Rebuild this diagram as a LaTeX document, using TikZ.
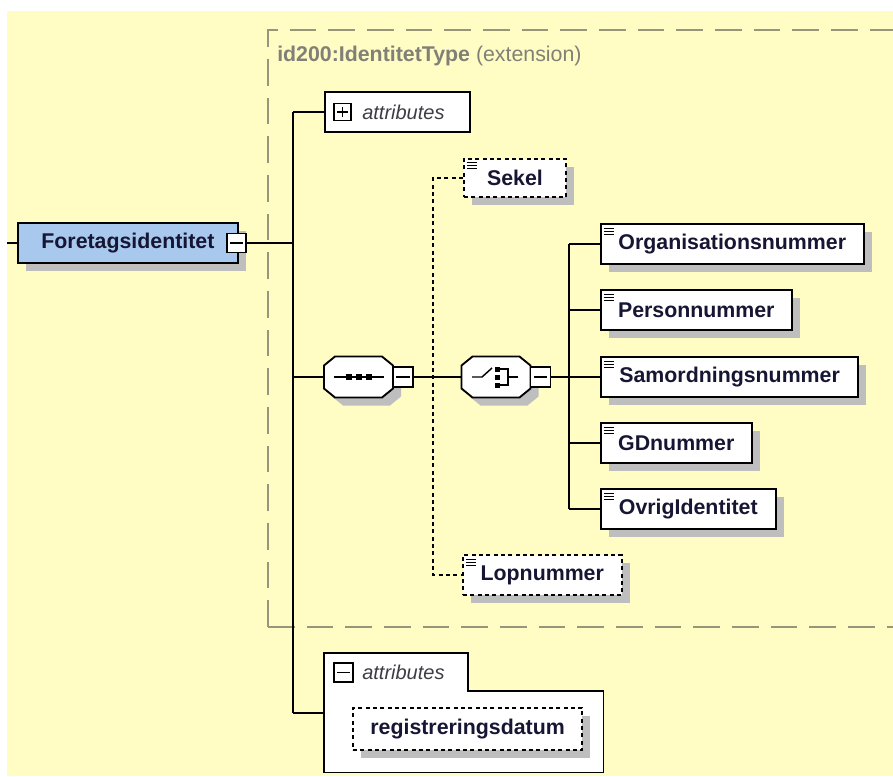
\documentclass[tikz,border=0pt]{standalone}
\usepackage{fontspec}
\setmainfont{Liberation Sans}
\usetikzlibrary{positioning,calc,shadows}
\definecolor{bgyellow}{RGB}{255,252,196}
\definecolor{shadowgray}{RGB}{190,190,190}
\definecolor{foreblue}{RGB}{168,200,238}
\definecolor{labelnavy}{RGB}{22,22,52}
\definecolor{extgray}{RGB}{150,150,122}
\definecolor{titlegray}{RGB}{128,128,118}
\definecolor{attrgray}{RGB}{60,60,70}

\begin{document}
\begin{tikzpicture}[x=0.75pt,y=-0.75pt,
	conn/.style={line width=1.5pt},
	dconn/.style={conn, dash pattern=on 3pt off 2.5pt},
	box/.style={draw, line width=1.4pt, fill=white, anchor=west, inner sep=0pt, minimum height=30pt, text=labelnavy, font=\fontsize{16}{19}\selectfont\bfseries, drop shadow={shadow xshift=6pt, shadow yshift=-6pt, fill=shadowgray, opacity=1}},
	elem/.style={box, path picture={\foreach \k in {3,5.25,7.5}{\draw[solid, line width=0.75pt] ([xshift=2.25pt,yshift=-\k pt]path picture bounding box.north west) -- ++(7.5pt,0pt);}}},
	optelem/.style={elem, dash pattern=on 3pt off 2.5pt},
	attrbox/.style={draw, line width=1.4pt, fill=white, anchor=west, inner sep=0pt, minimum height=30pt},
	lbl/.style={anchor=west, inner sep=0pt, text=attrgray, font=\fontsize{15}{18}\selectfont\itshape},
	btn/.style={draw, fill=white, line width=1.1pt, inner sep=0pt, minimum size=14.5pt, path picture={\draw[line width=1pt] ([xshift=2.5pt]path picture bounding box.west) -- ([xshift=-2.5pt]path picture bounding box.east);}},
	plusbtn/.style={draw, fill=white, line width=1.1pt, inner sep=0pt, minimum size=13pt, path picture={\draw[line width=1pt] ([xshift=2.5pt]path picture bounding box.west) -- ([xshift=-2.5pt]path picture bounding box.east); \draw[line width=1pt] ([yshift=2.5pt]path picture bounding box.south) -- ([yshift=-2.5pt]path picture bounding box.north);}},
	comp/.style={inner sep=0pt, minimum width=52pt, minimum height=31pt}]

	\useasboundingbox (0,0) rectangle (893,776);
	\fill[white] (0,0) rectangle (893,776);
	\fill[bgyellow] (7,11) rectangle (893,776);

	% extension frame
	\draw[extgray, line width=1.2pt, dash pattern=on 20pt off 9pt] (268,627) -- (268,30) -- (895,30);
	\draw[extgray, line width=1.2pt, dash pattern=on 20pt off 9pt] (268,627) -- (895,627);
	\node[anchor=west, inner sep=0pt, text=titlegray, font=\fontsize{16}{19}\selectfont] (ttl) at (277,56) {\textbf{id200:IdentitetType} (extension)};

	% root element
	\node[box, fill=foreblue, minimum width=165pt] (fore) at (17,243) {Foretagsidentitet};
	\node[btn] (forebtn) at (236.5,243) {};

	% attributes (collapsed)
	\node[attrbox, minimum width=109pt] (attrA) at (324,112) {};
	\node[plusbtn] (attrAbtn) at (342.5,112) {};
	\node[lbl] (attrAlbl) at (362,112) {attributes};

	% sequence and choice
	\node[comp] (seq) at (358.5,377) {};
	\node[comp] (cho) at (496,377) {};
	\foreach \n in {seq,cho}{
		\begin{scope}[shift={(\n.center)}]
			\fill[shadowgray, shift={(8,8)}] (-34.5,-11.5) -- (-23.5,-20.5) -- (23.5,-20.5) -- (34.5,-11.5) -- (34.5,11.5) -- (23.5,20.5) -- (-23.5,20.5) -- (-34.5,11.5) -- cycle;
			\draw[line width=1.4pt, fill=white] (-34.5,-11.5) -- (-23.5,-20.5) -- (23.5,-20.5) -- (34.5,-11.5) -- (34.5,11.5) -- (23.5,20.5) -- (-23.5,20.5) -- (-34.5,11.5) -- cycle;
		\end{scope}
	}
	\begin{scope}[shift={(seq.center)}]
		\draw[line width=1.1pt] (-25,0) -- (25,0);
		\foreach \dx in {-10,0,10}
			\fill (\dx-3,-3) rectangle (\dx+3,3);
	\end{scope}
	\begin{scope}[shift={(cho.center)}]
		\draw[line width=1.1pt] (-24,0) -- (-14,0) -- (-4,-9);
		\foreach \dy in {-8,0,8}
			\fill (-1.5,\dy-2.5) rectangle (3.5,\dy+2.5);
		\draw[line width=1.1pt] (3,-8) -- (12,-8) -- (12,8) -- (3,8);
		\draw[line width=1.1pt] (12,0) -- (22,0);
	\end{scope}
	\node[btn, minimum size=15pt] (seqbtn) at (403,377) {};
	\node[btn, minimum size=15pt] (chobtn) at (540.5,377) {};

	% optional elements
	\node[optelem, minimum width=76.5pt, minimum height=29pt] (sekel) at (463,178) {Sekel};
	\node[optelem, minimum width=119pt] (lop) at (462,575) {Lopnummer};

	% choice members
	\node[elem, minimum width=197pt] (org) at (600,244) {Organisationsnummer};
	\node[elem, minimum width=143pt] (pers) at (600,310) {Personnummer};
	\node[elem, minimum width=193pt] (samo) at (600,377) {Samordningsnummer};
	\node[elem, minimum width=113pt] (gd) at (600,443) {GDnummer};
	\node[elem, minimum width=131pt] (ovrig) at (600,509) {OvrigIdentitet};

	% attributes (expanded)
	\node[inner sep=0pt, minimum width=209.25pt, minimum height=89.25pt, anchor=north west] (attrB) at (324,653) {};
	\draw[line width=1.4pt, fill=white] (attrB.north west) -- ($(attrB.north west)+(144,0)$) -- ($(attrB.north west)+(144,38)$) -- ($(attrB.north east)+(0,38)$) -- (attrB.south east) -- (attrB.south west) -- cycle;
	\node[btn] (attrBbtn) at (343.5,672.5) {};
	\node[lbl] (attrBlbl) at (362,672) {attributes};
	\node[box, dash pattern=on 3pt off 2.5pt, minimum width=172pt, minimum height=31.5pt] (regdat) at (352,729) {registreringsdatum};

	% connectors
	\coordinate (lend) at (7,243);
	\coordinate (tr1) at (293,112);
	\coordinate (tr2) at (293,243);
	\coordinate (tr3) at (293,377);
	\coordinate (tr4) at (293,713);
	\coordinate (ctr) at (569,377);
	\coordinate (dtop) at (433,178);
	\coordinate (dbot) at (433,575);
	\draw[conn] (lend) -- (fore);
	\draw[conn] (forebtn) -- (tr2);
	\draw[conn] (tr1) -- (tr4);
	\draw[conn] (tr1) -- (attrA);
	\draw[conn] (tr3) -- (seq);
	\draw[conn] (tr4) -- (tr4 -| attrB.west);
	\draw[conn] (seqbtn) -- (cho);
	\draw[conn] (chobtn) -- (ctr);
	\draw[conn] (org.west -| ctr) -- (ovrig.west -| ctr);
	\foreach \m in {org,pers,samo,gd,ovrig}
		\draw[conn] (\m.west -| ctr) -- (\m.west);
	\draw[dconn] (sekel) -- (dtop) -- (dbot) -- (lop);
\end{tikzpicture}
\end{document}
